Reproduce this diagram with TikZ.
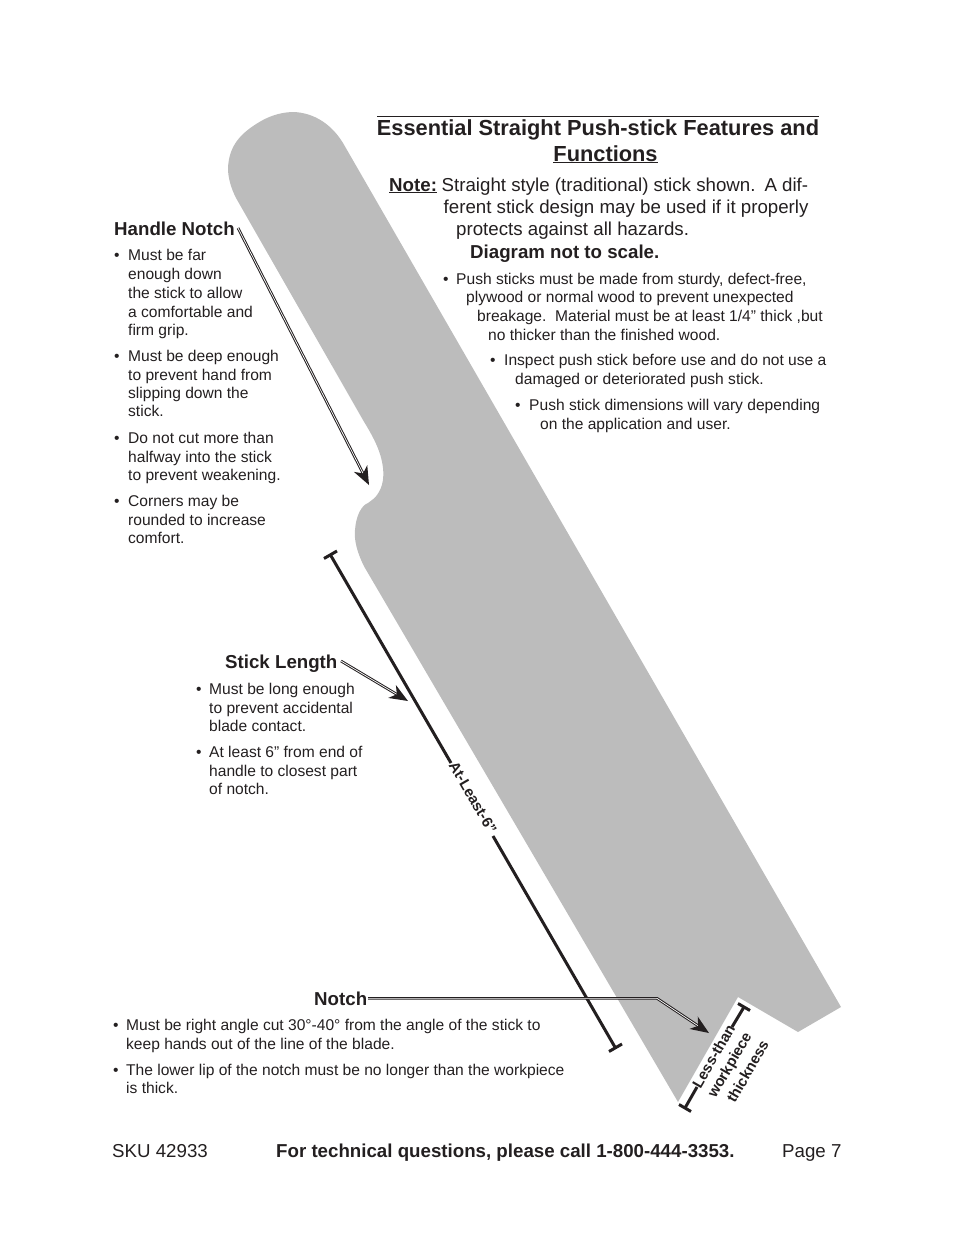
\documentclass[tikz,border=0pt]{standalone}
\usepackage{fontspec}
\setmainfont{Liberation Sans}
\usetikzlibrary{calc}
\definecolor{ink}{HTML}{231F20}
\definecolor{stick}{HTML}{BCBCBC}
\tikzset{
 txt/.style={anchor=base west,inner sep=0pt,text=ink,font=\fontsize{15.58}{18}\selectfont},
 head/.style={anchor=base west,inner sep=0pt,text=ink,font=\fontsize{18.7}{22}\selectfont\bfseries},
 title/.style={anchor=base,inner sep=0pt,text=ink,font=\fontsize{21.8}{26}\selectfont\bfseries},
 note/.style={anchor=base west,inner sep=0pt,text=ink,font=\fontsize{18.7}{22}\selectfont},
 foot/.style={anchor=base west,inner sep=0pt,text=ink,font=\fontsize{18.7}{22}\selectfont},
 dim/.style={anchor=center,inner sep=0pt,text=ink,font=\fontsize{14.9}{17}\selectfont\bfseries},
 dimline/.style={draw=ink,line width=3pt},
 callout/.style={draw=ink,line width=1pt,double=white,double distance=0.7pt},
 tiphead/.style={fill=ink,draw=none},
}
\newcommand{\barrow}[2]{\fill[tiphead] (#2) -- ($(#2)!20pt!22:(#1)$) -- ($(#2)!13pt!(#1)$) -- ($(#2)!20pt!-22:(#1)$) -- cycle;}
\begin{document}
\begin{tikzpicture}[x=1pt,y=-1pt]
\useasboundingbox (0,0) rectangle (954,1235);
% stick
\fill[stick] (343,143) -- (841,1007) -- (798,1032) -- (738,997) -- (678,1102) -- (365,568)
  .. controls (357,553) and (354,540) .. (355,530)
  .. controls (356,515) and (362,505) .. (368,503)
  .. controls (372,500) and (375,498) .. (377,495)
  .. controls (383,487) and (384,477) .. (383,468)
  .. controls (381,450) and (372,435) .. (363,420)
  -- (236,198)
  .. controls (231,188) and (228,178) .. (228,168)
  .. controls (229,146) and (240,133) .. (262,120.5)
  .. controls (272,115) and (283,112) .. (294,112)
  .. controls (315,113) and (332,125) .. (343,143) -- cycle;
% top rule
\coordinate (ruleL) at (377,116);
\coordinate (ruleR) at (819,116);
\draw[ink,line width=0.9pt] (ruleL) -- (ruleR);
% title
\node[title] (t1) at (598,135) {Essential Straight Push-stick Features and};
\node[title] (t2) at (605.5,161) {\underline{Functions}};
\node[note] (n0) at (389,191) {\textbf{\underline{Note:}}};
\node[note] (n1) at (441.5,191) {Straight style (traditional) stick shown.\hspace{9pt}A dif-};
\node[note] (n2) at (443.5,213) {ferent stick design may be used if it properly};
\node[note] (n3) at (456,235) {protects against all hazards.};
\node[head] (n4) at (470,258) {Diagram not to scale.};
\node[txt] (r0) at (443,284) {•}; \node[txt] (r1) at (456,284) {Push sticks must be made from sturdy, defect-free,};
\node[txt] (r2) at (466,302) {plywood or normal wood to prevent unexpected};
\node[txt] (r3) at (477,321) {breakage.\hspace{8.7pt}Material must be at least 1/4” thick ,but};
\node[txt] (r4) at (488,340) {no thicker than the finished wood.};
\node[txt] (r50) at (490,365) {•}; \node[txt] (r5) at (504,365) {Inspect push stick before use and do not use a};
\node[txt] (r6) at (515,384) {damaged or deteriorated push stick.};
\node[txt] (r70) at (515,410) {•}; \node[txt] (r7) at (529,410) {Push stick dimensions will vary depending};
\node[txt] (r8) at (540,429) {on the application and user.};
% handle notch
\node[head] (hn) at (114,235) {Handle Notch};
\node[txt] (h1) at (114,260) {•}; \node[txt] (h1a) at (128,260) {Must be far};
\node[txt] (h2) at (128,279) {enough down};
\node[txt] (h3) at (128,298) {the stick to allow};
\node[txt] (h4) at (128,317) {a comfortable and};
\node[txt] (h5) at (128,335) {firm grip.};
\node[txt] (h6) at (114,361) {•}; \node[txt] (h6a) at (128,361) {Must be deep enough};
\node[txt] (h7) at (128,380) {to prevent hand from};
\node[txt] (h8) at (128,398) {slipping down the};
\node[txt] (h9) at (128,416) {stick.};
\node[txt] (h10) at (114,443) {•}; \node[txt] (h10a) at (128,443) {Do not cut more than};
\node[txt] (h11) at (128,462) {halfway into the stick};
\node[txt] (h12) at (128,480) {to prevent weakening.};
\node[txt] (h13) at (114,506) {•}; \node[txt] (h13a) at (128,506) {Corners may be};
\node[txt] (h14) at (128,525) {rounded to increase};
\node[txt] (h15) at (128,543) {comfort.};
% stick length
\node[head] (sl) at (225,668) {Stick Length};
\node[txt] (s1) at (196,694) {•}; \node[txt] (s1a) at (209,694) {Must be long enough};
\node[txt] (s2) at (209,713) {to prevent accidental};
\node[txt] (s3) at (209,731) {blade contact.};
\node[txt] (s4) at (196,757) {•}; \node[txt] (s4a) at (209,757) {At least 6” from end of};
\node[txt] (s5) at (209,776) {handle to closest part};
\node[txt] (s6) at (209,794) {of notch.};
% notch
\node[head] (nn) at (314,1005) {Notch};
\node[txt] (m1) at (113,1030) {•}; \node[txt] (m1a) at (126,1030) {Must be right angle cut 30°-40° from the angle of the stick to};
\node[txt] (m2) at (126,1049) {keep hands out of the line of the blade.};
\node[txt] (m3) at (113,1075) {•}; \node[txt] (m3a) at (126,1075) {The lower lip of the notch must be no longer than the workpiece};
\node[txt] (m4) at (126,1093) {is thick.};
% footer
\node[foot] (f1) at (112,1157) {SKU 42933};
\node[foot,font=\fontsize{18.7}{22}\selectfont\bfseries] (f2) at (276,1157) {For technical questions, please call 1-800-444-3353.};
\node[foot] (f3) at (782,1157) {Page 7};
% dimension at least 6
\coordinate (a1) at (330.5,555);
\coordinate (a2) at (451,763);
\coordinate (a3) at (493,836);
\coordinate (a4) at (615.5,1048);
\coordinate (a1L) at (324,558.5); \coordinate (a1R) at (337,551);
\coordinate (a4L) at (609,1051.5); \coordinate (a4R) at (622,1044);
\draw[dimline] (a1) -- (a2);
\draw[dimline] (a3) -- (a4);
\draw[dimline] (a1L) -- (a1R);
\draw[dimline] (a4L) -- (a4R);
\node[dim,rotate=-60] (al) at (473,797.5) {At-Least-6”};
% dimension less than
\coordinate (b1) at (744,1007);
\coordinate (b2) at (732,1027);
\coordinate (b3) at (697,1087);
\coordinate (b4) at (685,1108);
\coordinate (b1L) at (738,1003.5); \coordinate (b1R) at (750,1010.5);
\coordinate (b4L) at (679,1104.5); \coordinate (b4R) at (691,1111.5);
\draw[dimline] (b1) -- (b2);
\draw[dimline] (b3) -- (b4);
\draw[dimline] (b1L) -- (b1R);
\draw[dimline] (b4L) -- (b4R);
\node[dim,rotate=60] (lt1) at (713.5,1056) {Less-than};
\node[dim,rotate=60] (lt2) at (730.5,1065.5) {workpiece};
\node[dim,rotate=60] (lt3) at (747.5,1071.5) {thickness};
% callouts
\coordinate (hs) at (238,228);
\coordinate (he) at (369,485);
\coordinate (ss) at (341,661);
\coordinate (se) at (408,701);
\coordinate (ns) at (368,998.35);
\coordinate (nb) at (657,998.35);
\coordinate (ne) at (709,1033);
\coordinate (hx) at ($(he)!13pt!(hs)$);
\coordinate (sx) at ($(se)!13pt!(ss)$);
\coordinate (nx) at ($(ne)!13pt!(nb)$);
\draw[callout] (hs) -- (hx);
\draw[callout] (ss) -- (sx);
\draw[callout] (ns) -- (nb) -- (nx);
\barrow{hs}{he}
\barrow{ss}{se}
\barrow{nb}{ne}
\end{tikzpicture}
\end{document}
